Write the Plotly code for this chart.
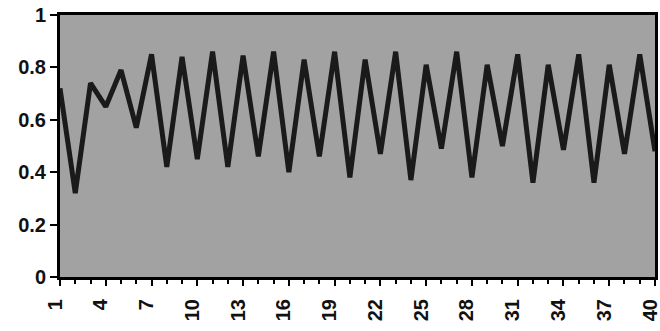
import plotly.graph_objects as go

categories = list(range(1, 41))
values = [0.72, 0.32, 0.74, 0.65, 0.79, 0.57, 0.85, 0.42, 0.84, 0.45,
          0.86, 0.42, 0.845, 0.46, 0.86, 0.40, 0.83, 0.46, 0.86, 0.38,
          0.83, 0.47, 0.86, 0.37, 0.81, 0.49, 0.86, 0.38, 0.81, 0.50,
          0.85, 0.36, 0.81, 0.485, 0.85, 0.36, 0.81, 0.47, 0.85, 0.48]
x_tick_vals = list(range(1, 41, 3))
x_tick_text = [str(v) for v in x_tick_vals]
y_tick_vals = [0, 0.2, 0.4, 0.6, 0.8, 1]
y_tick_text = ["0", "0.2", "0.4", "0.6", "0.8", "1"]

fig = go.Figure()
fig.add_trace(go.Scatter(
    x=categories, y=values, mode="lines",
    line=dict(color="#1a1a1a", width=5),
    showlegend=False, hoverinfo="skip"))

font = dict(family="Liberation Sans, Arial, sans-serif", size=20, color="#111111", weight=600)

fig.update_layout(
    width=660, height=331,
    margin=dict(l=60, r=5, t=15, b=54, autoexpand=False),
    paper_bgcolor="white",
    plot_bgcolor="#a2a2a2",
    font=font,
    xaxis=dict(
        range=[1, 40.0001], tickmode="array", tickvals=x_tick_vals, ticktext=x_tick_text,
        tickangle=-90, ticks="outside", ticklen=6, tickwidth=2, tickcolor="black",
        ticklabelstandoff=5, ticklabelshift=-5, ticklabeloverflow="allow", automargin=False,
        showgrid=False, zeroline=False, showline=True, linecolor="black", linewidth=3,
        mirror=True, tickfont=font,
        minor=dict(tickmode="linear", tick0=1, dtick=1, ticks="outside", ticklen=4,
                   tickwidth=1.5, tickcolor="black", showgrid=False),
    ),
    yaxis=dict(
        range=[0, 1], tickmode="array", tickvals=y_tick_vals, ticktext=y_tick_text,
        ticks="outside", ticklen=7, tickwidth=2, tickcolor="black",
        ticklabeloverflow="allow", automargin=False,
        showgrid=False, zeroline=False, showline=True, linecolor="black", linewidth=3,
        mirror=True, tickfont=font,
    ),
)

fig.write_html("out.html")
